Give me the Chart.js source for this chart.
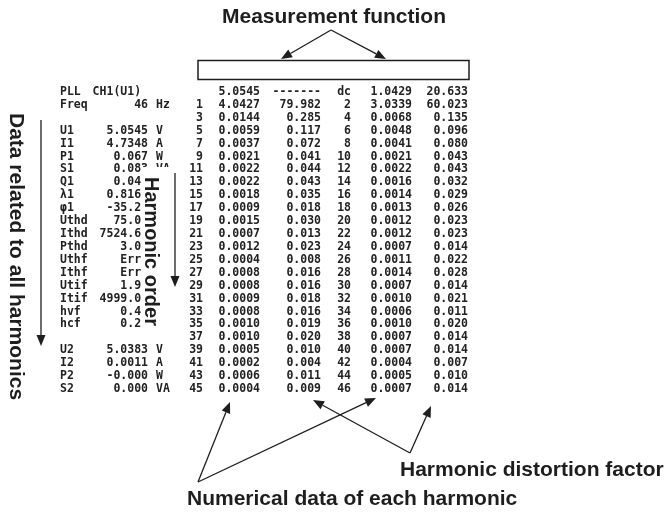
<!DOCTYPE html>
<html>
<head>
<meta charset="utf-8">
<script src="https://cdn.jsdelivr.net/npm/chart.js@4.4.1/dist/chart.umd.min.js"></script>
<style>
  html, body { margin: 0; padding: 0; background: #fff; }
  canvas { display: block; }
</style>
</head>
<body>
<canvas id="harm" width="671" height="514"></canvas>
<script>
// left block: data related to all harmonics (one entry per display row)
const sumNames  = ['PLL', 'Freq', '', 'U1', 'I1', 'P1', 'S1', 'Q1', 'λ1', 'φ1', 'Uthd', 'Ithd', 'Pthd',
                   'Uthf', 'Ithf', 'Utif', 'Itif', 'hvf', 'hcf', '', 'U2', 'I2', 'P2', 'S2'];
const sumValues = ['CH1(U1) ', '46', '', '5.0545', '4.7348', '0.067', '0.083', '0.047', '0.8163', '-35.27',
                   '75.02', '7524.61', '3.06', 'Err ', 'Err ', '1.96', '4999.01', '0.45', '0.23', '',
                   '5.0383', '0.0011', '-0.000', '0.000'];
const sumUnits  = ['', 'Hz', '', 'V', 'A', 'W', 'VA', '', '', '', '', '', '', '', '', '', '', '', '', '',
                   'V', 'A', 'W', 'VA'];

// odd harmonic orders (row 0 = total)
const oddOrders = ['', '1', '3', '5', '7', '9', '11', '13', '15', '17', '19', '21', '23', '25', '27', '29',
                   '31', '33', '35', '37', '39', '41', '43', '45'];
const oddLevels = ['5.0545', '4.0427', '0.0144', '0.0059', '0.0037', '0.0021', '0.0022', '0.0022', '0.0018',
                   '0.0009', '0.0015', '0.0007', '0.0012', '0.0004', '0.0008', '0.0008', '0.0009', '0.0008',
                   '0.0010', '0.0010', '0.0005', '0.0002', '0.0006', '0.0004'];
const oddRatios = ['-------', '79.982', '0.285', '0.117', '0.072', '0.041', '0.044', '0.043', '0.035',
                   '0.018', '0.030', '0.013', '0.023', '0.008', '0.016', '0.016', '0.018', '0.016',
                   '0.019', '0.020', '0.010', '0.004', '0.011', '0.009'];

// even harmonic orders (row 0 = dc)
const evenOrders = ['dc', '2', '4', '6', '8', '10', '12', '14', '16', '18', '20', '22', '24', '26', '28', '30',
                    '32', '34', '36', '38', '40', '42', '44', '46'];
const evenLevels = ['1.0429', '3.0339', '0.0068', '0.0048', '0.0041', '0.0021', '0.0022', '0.0016', '0.0014',
                    '0.0013', '0.0012', '0.0012', '0.0007', '0.0011', '0.0014', '0.0007', '0.0010', '0.0006',
                    '0.0010', '0.0007', '0.0007', '0.0004', '0.0005', '0.0007'];
const evenRatios = ['20.633', '60.023', '0.135', '0.096', '0.080', '0.043', '0.043', '0.032', '0.029',
                    '0.026', '0.023', '0.023', '0.014', '0.022', '0.028', '0.014', '0.021', '0.011',
                    '0.020', '0.014', '0.014', '0.007', '0.010', '0.014'];

// where each text column sits (pixels) and how it is aligned
const columns = [
  { texts: sumNames,   x: 60,  align: 'left'  },
  { texts: sumValues,  x: 148, align: 'right' },
  { texts: sumUnits,   x: 156, align: 'left'  },
  { texts: oddOrders,  x: 203, align: 'right' },
  { texts: oddLevels,  x: 260, align: 'right' },
  { texts: oddRatios,  x: 321, align: 'right' },
  { texts: evenOrders, x: 351, align: 'right' },
  { texts: evenLevels, x: 412, align: 'right' },
  { texts: evenRatios, x: 468, align: 'right' }
];

const rowTop = 92;
const rowStep = 12.913;
const W = 671, H = 514;

const ink = '#1e1e1e';
const bigFont = 'bold 21px "Liberation Sans", Arial, sans-serif';

const paper = {
  id: 'paper',
  beforeDraw(chart) {
    const ctx = chart.ctx;
    ctx.save();
    ctx.fillStyle = '#fff';
    ctx.fillRect(0, 0, chart.width, chart.height);
    ctx.restore();
  }
};

const cellText = {
  id: 'cellText',
  afterDatasetsDraw(chart) {
    const ctx = chart.ctx;
    ctx.save();
    ctx.fillStyle = '#222';
    ctx.font = 'bold 11.5px "DejaVu Sans Mono", monospace';
    ctx.textBaseline = 'middle';
    chart.data.datasets.forEach((ds, d) => {
      const meta = chart.getDatasetMeta(d);
      ctx.textAlign = ds.align;
      meta.data.forEach((el, i) => {
        const t = ds.texts[i];
        if (t) ctx.fillText(t, el.x, el.y);
      });
    });
    ctx.restore();
  }
};

function arrow(ctx, x1, y1, x2, y2) {
  const a = Math.atan2(y2 - y1, x2 - x1);
  const len = 11, half = 4.5;
  const bx = x2 - len * Math.cos(a), by = y2 - len * Math.sin(a);
  ctx.beginPath();
  ctx.moveTo(x1, y1);
  ctx.lineTo(bx, by);
  ctx.stroke();
  ctx.beginPath();
  ctx.moveTo(x2, y2);
  ctx.lineTo(bx + half * Math.sin(a), by - half * Math.cos(a));
  ctx.lineTo(bx - half * Math.sin(a), by + half * Math.cos(a));
  ctx.closePath();
  ctx.fill();
}

function vtext(ctx, text, cx, top) {
  ctx.save();
  ctx.translate(cx, top);
  ctx.rotate(Math.PI / 2);
  ctx.textAlign = 'left';
  ctx.textBaseline = 'middle';
  ctx.fillText(text, 0, 0);
  ctx.restore();
}

const notes = {
  id: 'notes',
  afterDraw(chart) {
    const ctx = chart.ctx;
    ctx.save();
    ctx.strokeStyle = ink;
    ctx.fillStyle = ink;
    ctx.lineWidth = 1.3;

    // measurement function
    ctx.font = bigFont;
    ctx.textAlign = 'center';
    ctx.textBaseline = 'middle';
    ctx.fillText('Measurement function', 334, 17);
    arrow(ctx, 331, 30, 281, 59);
    arrow(ctx, 331, 30, 386, 59);
    ctx.lineWidth = 1.5;
    ctx.strokeRect(198, 60.5, 271, 19);
    ctx.lineWidth = 1.3;

    // data related to all harmonics
    ctx.font = bigFont;
    vtext(ctx, 'Data related to all harmonics', 16, 113);
    arrow(ctx, 41, 120, 41, 346);

    // harmonic order, on a white patch over the table
    ctx.fillStyle = '#fff';
    ctx.fillRect(141, 167, 30, 170);
    ctx.fillStyle = ink;
    ctx.font = 'bold 20px "Liberation Sans", Arial, sans-serif';
    vtext(ctx, 'Harmonic order', 151, 177);
    arrow(ctx, 175, 173, 175, 287);

    // bottom call-outs
    arrow(ctx, 198, 482, 230, 402);
    arrow(ctx, 198, 482, 376, 398);
    arrow(ctx, 410, 453, 313, 400);
    arrow(ctx, 410, 453, 431, 406);
    ctx.font = bigFont;
    ctx.textAlign = 'left';
    ctx.fillText('Harmonic distortion factor', 400, 470);
    ctx.fillText('Numerical data of each harmonic', 187, 499);
    ctx.restore();
  }
};

new Chart(document.getElementById('harm'), {
  type: 'scatter',
  data: {
    datasets: columns.map(c => ({
      data: c.texts.map((t, i) => ({ x: c.x, y: i })),
      texts: c.texts,
      align: c.align,
      pointRadius: 0,
      showLine: false
    }))
  },
  options: {
    responsive: false,
    animation: false,
    devicePixelRatio: 1,
    events: [],
    layout: { padding: 0 },
    plugins: { legend: { display: false }, tooltip: { enabled: false } },
    scales: {
      x: { type: 'linear', min: 0, max: W, display: false },
      y: { type: 'linear', min: -rowTop / rowStep, max: (H - rowTop) / rowStep, reverse: true, display: false }
    }
  },
  plugins: [paper, cellText, notes]
});
</script>
</body>
</html>
